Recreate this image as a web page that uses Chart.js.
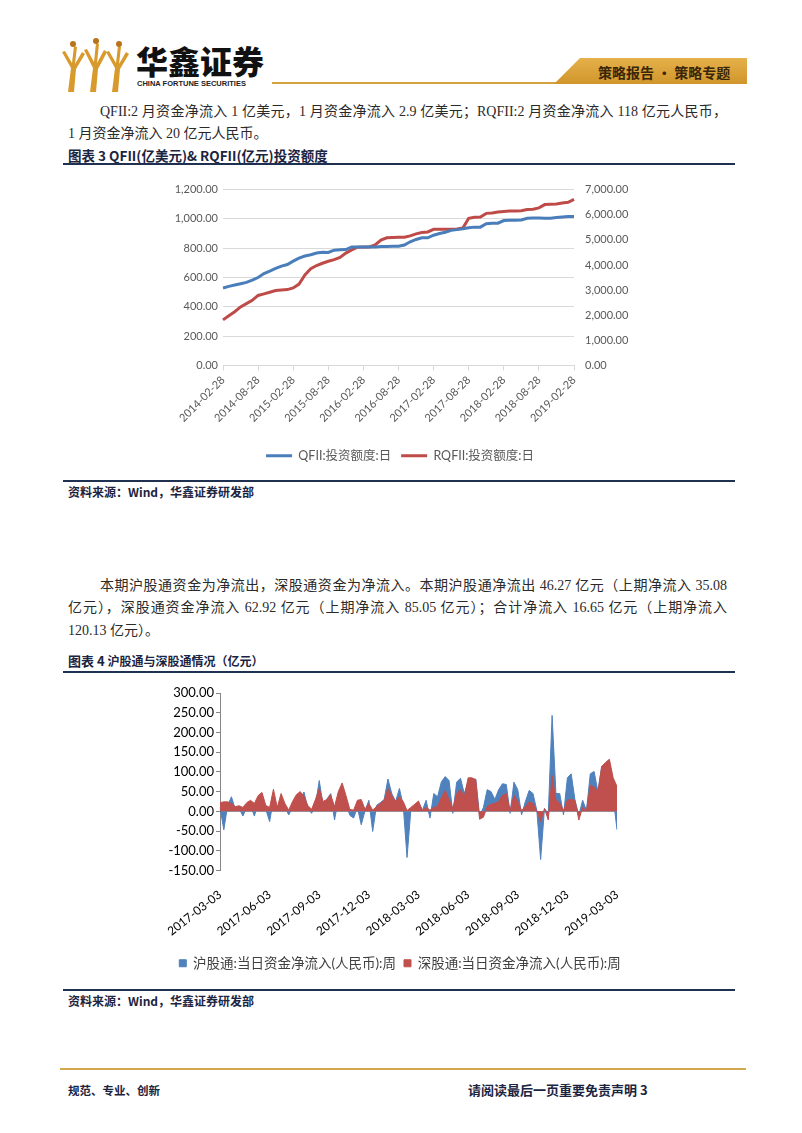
<!DOCTYPE html>
<html>
<head>
<meta charset="utf-8">
<script src="https://cdn.jsdelivr.net/npm/chart.js@4.4.1/dist/chart.umd.min.js"></script>
<style>
  body { margin: 0; width: 802px; height: 1133px; background: #fff; position: relative; overflow: hidden; font-family: "Noto Sans CJK SC", sans-serif; }
  .t { position: absolute; white-space: nowrap; }
  .p { font: 14px/20px "Liberation Serif", "Noto Sans CJK SC", serif; color: #2a2a2a; }
  .cap { font-weight: bold; color: #1b2440; }
  .rule { position: absolute; left: 63px; width: 672px; height: 2px; background: #1f3051; }
  .src { font: bold 12px/16px "Noto Sans CJK SC", sans-serif; color: #1b2440; }
  canvas { position: absolute; }
</style>
</head>
<body>

<svg class="t" style="left:58px;top:38px" width="80" height="56" viewBox="0 0 80 56">
  <g fill="#d89a2c">
    <path d="M10 54 L13 30 L4 14 L7 13 L14 25 L16 8 L19 9 L17 26 L24 14 L27 16 L18 31 L16 54 Z"/>
    <path d="M32 54 L35 30 L26 12 L29 11 L36 24 L38 5 L41 6 L39 25 L46 12 L49 14 L40 31 L38 54 Z"/>
    <path d="M54 54 L57 30 L48 14 L51 13 L58 25 L60 8 L63 9 L61 26 L68 14 L71 16 L62 31 L60 54 Z"/>
  </g>
  <g fill="#b8731c">
    <circle cx="15" cy="6" r="3"/><circle cx="38" cy="3" r="3"/><circle cx="61" cy="6" r="3"/>
  </g>
</svg>
<div class="t" style="left:136px;top:40px;font:900 32px/40px 'Noto Sans CJK SC';color:#111">华鑫证券</div>
<div class="t" style="left:137px;top:79px;font:bold 7.5px/10px 'Liberation Sans';color:#222">CHINA FORTUNE SECURITIES</div>

<svg class="t" style="left:270px;top:56px" width="480" height="32">
  <defs>
    <linearGradient id="gold" x1="0" x2="0" y1="0" y2="1">
      <stop offset="0" stop-color="#e6b04a"/>
      <stop offset="1" stop-color="#d0962c"/>
    </linearGradient>
  </defs>
  <rect x="2" y="26" width="475" height="2" fill="#d6a23e"/>
  <polygon points="310,2 477,2 477,28 284,28" fill="url(#gold)"/>
</svg>
<div class="t" style="left:598px;top:63px;font:bold 14px/18px 'Noto Sans CJK SC';color:#3a2608">策略报告 • 策略专题</div>

<div class="t p" style="left:100px;top:102px;width:627px;white-space:normal;text-align:justify;text-align-last:justify">QFII:2 月资金净流入 1 亿美元，1 月资金净流入 2.9 亿美元；RQFII:2 月资金净流入 118 亿元人民币，</div>
<div class="t p" style="left:68px;top:124px">1 月资金净流入 20 亿元人民币。</div>

<div class="t cap" style="left:68px;top:146px;font-size:13.5px;line-height:18px">图表 3 QFII(亿美元)&amp; RQFII(亿元)投资额度</div>
<div class="rule" style="top:163px"></div>

<canvas id="quotaChart" width="500" height="300" style="left:150px;top:172px"></canvas>

<div class="rule" style="top:480px"></div>
<div class="t src" style="left:68px;top:484px">资料来源：Wind，华鑫证券研发部</div>

<div class="t p" style="left:100px;top:576px;width:627px;white-space:normal;text-align:justify;text-align-last:justify">本期沪股通资金为净流出，深股通资金为净流入。本期沪股通净流出 46.27 亿元（上期净流入 35.08</div>
<div class="t p" style="left:68px;top:598px;width:659px;white-space:normal;text-align:justify;text-align-last:justify">亿元），深股通资金净流入 62.92 亿元（上期净流入 85.05 亿元）；合计净流入 16.65 亿元（上期净流入</div>
<div class="t p" style="left:68px;top:621px">120.13 亿元）。</div>

<div class="t cap" style="left:68px;top:652px;font-size:13px;line-height:18px">图表 4 <span style="font-size:12px">沪股通与深股通情况（亿元）</span></div>
<div class="rule" style="top:671px"></div>

<canvas id="flowChart" width="500" height="300" style="left:150px;top:680px"></canvas>

<div class="rule" style="top:989px"></div>
<div class="t src" style="left:68px;top:993px">资料来源：Wind，华鑫证券研发部</div>

<div style="position:absolute;left:60px;top:1068px;width:686px;height:2px;background:#d4a84e"></div>
<div class="t" style="left:68px;top:1081px;font:bold 11.5px/18px 'Noto Sans CJK SC';color:#1b2440">规范、专业、创新</div>
<div class="t" style="left:468px;top:1081px;font:bold 13px/18px 'Noto Sans CJK SC';color:#1b2440">请阅读最后一页重要免责声明 3</div>

<script>
// chart 1: monthly quota, 2014-02 .. 2019-02
const quotaDates = [];
for (let y = 2014, m = 2; ; m++) {
    if (m > 12) { m = 1; y++; }
    quotaDates.push(y + '-' + String(m).padStart(2, '0') + '-28');
    if (y === 2019 && m === 2) break;
}
const qfiiQuota = [529, 540, 549, 558, 567, 582, 600, 627, 644, 662,
    678, 689, 712, 733, 747, 756, 767, 773, 771, 787,
    789, 791, 809, 809, 809, 809, 809, 811, 811, 813,
    813, 822, 844, 860, 871, 871, 889, 900, 909, 922,
    927, 933, 940, 944, 944, 967, 971, 971, 989, 991,
    991, 993, 1004, 1007, 1007, 1004, 1004, 1009, 1013, 1016,
    1016];
const rqfiiQuota = [1815, 1983, 2139, 2333, 2463, 2593, 2787, 2852, 2917, 2981,
    3007, 3020, 3085, 3241, 3604, 3850, 3980, 4070, 4148, 4213,
    4304, 4472, 4602, 4706, 4718, 4718, 4796, 4991, 5081, 5094,
    5107, 5107, 5159, 5237, 5289, 5315, 5418, 5418, 5418, 5418,
    5431, 5470, 5859, 5898, 5911, 6054, 6067, 6106, 6131, 6144,
    6144, 6157, 6209, 6222, 6274, 6404, 6417, 6430, 6468, 6494,
    6611];

// chart 2: weekly net inflow, 2017-03-03 .. 2019-03
const flowTickLabels = ['2017-03-03', '2017-06-03', '2017-09-03', '2017-12-03', '2018-03-03',
    '2018-06-03', '2018-09-03', '2018-12-03', '2019-03-03'];
const shFlow = [10, -47, 15, 37, 5, 8, -12, 10, 15, -12,
    20, 30, 5, -26, 30, 5, 20, 10, -9, 10,
    20, 30, 49, 8, -5, 15, 78, 15, 31, 45,
    -22, 30, 40, 20, -10, -17, 10, -34, 2, 28,
    -51, 15, 22, 30, 82, 45, 25, 58, 15, -117,
    5, 10, 22, 2, 28, -17, 45, 37, 75, 88,
    78, -5, 74, 84, 45, 75, 80, 82, -12, 10,
    55, 50, 30, 55, 70, 68, -5, 74, 55, -9,
    25, 53, 45, 2, -122, 7, -5, 243, 45, 45,
    -9, 85, 95, 28, -10, 28, 2, 95, 101, 50,
    114, 118, 130, 35.08, -46.27];
const szFlow = [22, 24, 24, 20, 12, 14, 10, 22, 28, 20,
    40, 48, 15, 10, 56, 10, 45, 20, 3, 25,
    42, 50, 38, 15, 5, 30, 58, 25, 30, 42,
    12, 50, 72, 40, 5, 3, 28, 30, 5, 20,
    3, 12, 20, 28, 58, 40, 25, 37, 25, 2,
    10, 18, 26, 3, 10, 3, 10, 12, 35, 53,
    30, 8, 45, 55, 37, 85, 85, 80, -20, -15,
    12, 18, 20, 25, 40, 45, 2, 41, 25, 2,
    12, 24, 20, 1, -26, 7, -22, 91, 30, 20,
    2, 28, 30, 28, -22, 10, 1, 66, 62, 49,
    114, 124, 132, 85.05, 62.92];
const flowDates = [];
for (let i = 0; i < shFlow.length; i++) {
    const d = new Date(Date.UTC(2017, 2, 3 + i * 7));
    flowDates.push(d.toISOString().slice(0, 10));
}

Chart.defaults.font.family = "Lato, 'Noto Sans CJK SC', sans-serif";
Chart.defaults.animation = false;

const ctx1 = document.getElementById('quotaChart').getContext('2d');
const quotaChart = new Chart(ctx1, {
    type: 'line',
    data: {
        labels: quotaDates,
        datasets: [{
            label: 'QFII:投资额度:日',
            data: qfiiQuota,
            borderColor: '#4a7ebb',
            backgroundColor: '#4a7ebb',
            borderWidth: 3,
            pointRadius: 0,
            yAxisID: 'y'
        }, {
            label: 'RQFII:投资额度:日',
            data: rqfiiQuota,
            borderColor: '#be4b48',
            backgroundColor: '#be4b48',
            borderWidth: 3,
            pointRadius: 0,
            yAxisID: 'y1'
        }]
    },
    options: {
        responsive: false,
        layout: { padding: { top: 14, left: 0, right: 0, bottom: 0 } },
        plugins: {
            tooltip: { enabled: false },
            legend: {
                position: 'bottom',
                labels: {
                    boxWidth: 26,
                    boxHeight: 3,
                    padding: 10,
                    color: '#595959',
                    font: { size: 12.5 },
                    generateLabels: chart => Chart.defaults.plugins.legend.labels.generateLabels(chart)
                        .map(item => Object.assign(item, { lineWidth: 0 }))
                }
            }
        },
        scales: {
            x: {
                ticks: {
                    autoSkip: false,
                    minRotation: 45,
                    maxRotation: 45,
                    color: '#595959',
                    font: { size: 11 },
                    callback: (v, i) => i % 6 === 0 ? quotaDates[i] : null
                },
                grid: { drawOnChartArea: false, tickLength: 5, color: '#d9d9d9' },
                border: { color: '#d9d9d9' },
                afterFit: s => { s.height = 74; }
            },
            y: {
                min: 0,
                max: 1200,
                ticks: {
                    stepSize: 200,
                    padding: 5,
                    color: '#595959',
                    font: { size: 11 },
                    callback: v => v.toLocaleString('en-US', { minimumFractionDigits: 2 })
                },
                grid: { color: '#d9d9d9', drawTicks: false },
                border: { display: false },
                afterFit: s => { s.width = 73; }
            },
            y1: {
                position: 'right',
                min: 0,
                max: 7000,
                ticks: {
                    stepSize: 1000,
                    padding: 11,
                    color: '#595959',
                    font: { size: 11 },
                    callback: v => v.toLocaleString('en-US', { minimumFractionDigits: 2 })
                },
                grid: { drawOnChartArea: false, drawTicks: false },
                border: { display: false },
                afterFit: s => { s.width = 76; }
            }
        }
    }
});

const ctx2 = document.getElementById('flowChart').getContext('2d');
const flowChart = new Chart(ctx2, {
    type: 'line',
    data: {
        labels: flowDates,
        datasets: [{
            label: '沪股通:当日资金净流入(人民币):周',
            data: shFlow,
            borderColor: '#4f81bd',
            backgroundColor: '#4f81bd',
            borderWidth: 1,
            pointRadius: 0,
            fill: 'origin',
            order: 1
        }, {
            label: '深股通:当日资金净流入(人民币):周',
            data: szFlow,
            borderColor: '#c0504d',
            backgroundColor: '#c0504d',
            borderWidth: 1,
            pointRadius: 0,
            fill: 'origin',
            order: 0
        }]
    },
    options: {
        responsive: false,
        layout: { padding: { top: 13, left: 0, right: 0, bottom: 0 } },
        plugins: {
            tooltip: { enabled: false },
            legend: {
                position: 'bottom',
                labels: {
                    boxWidth: 7,
                    boxHeight: 7,
                    padding: 8,
                    color: '#404040',
                    font: { size: 13.5 },
                    sort: (a, b) => a.datasetIndex - b.datasetIndex
                }
            }
        },
        scales: {
            x: {
                ticks: {
                    autoSkip: false,
                    minRotation: 38,
                    maxRotation: 38,
                    padding: 9,
                    color: '#000',
                    font: { size: 12 },
                    callback: (v, i) => i % 13 === 0 ? flowTickLabels[i / 13] : null
                },
                grid: { display: false },
                border: { display: false },
                afterFit: s => { s.height = 78; }
            },
            y: {
                min: -150,
                max: 300,
                ticks: {
                    stepSize: 50,
                    padding: 2,
                    color: '#000',
                    font: { size: 13 },
                    callback: v => v.toFixed(2)
                },
                grid: {
                    color: c => c.tick && c.tick.value === 0 ? '#a6a6a6' : 'rgba(0,0,0,0)',
                    tickColor: '#868686',
                    tickLength: 4
                },
                border: { color: '#868686' },
                afterFit: s => { s.width = 70; }
            },
            // empty right-hand box keeps the plot narrower while the legend stays centred
            yPad: {
                position: 'right',
                display: true,
                ticks: { display: false },
                grid: { display: false },
                border: { display: false },
                afterFit: s => { s.width = 33; }
            }
        }
    }
});
</script>
</body>
</html>
